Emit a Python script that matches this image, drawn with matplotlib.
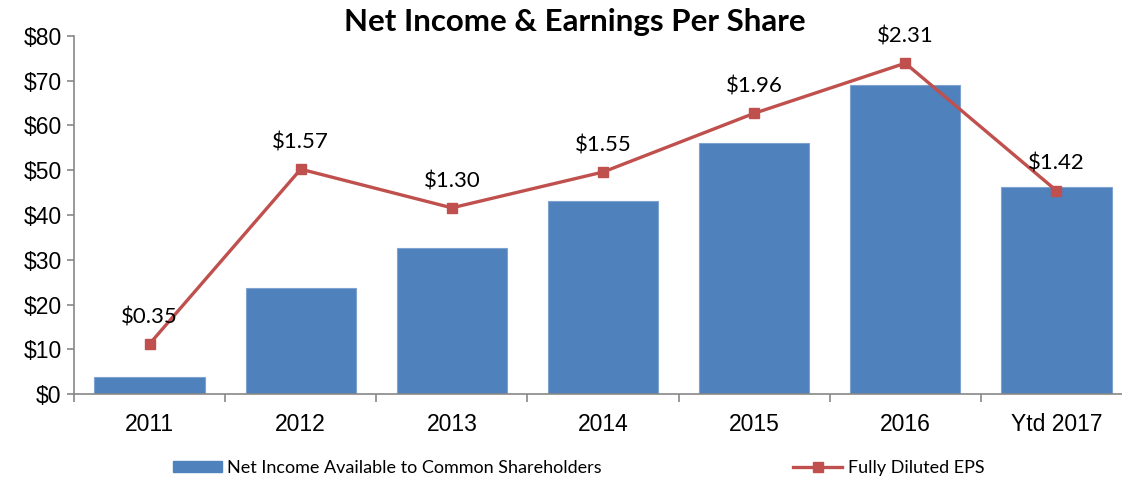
import matplotlib
matplotlib.use("Agg")
import matplotlib.pyplot as plt
import numpy as np
from matplotlib.lines import Line2D
from matplotlib.patches import Patch

categories = ["2011", "2012", "2013", "2014", "2015", "2016", "Ytd 2017"]
net_income = [3.8, 23.7, 32.7, 43.2, 56.1, 69.0, 46.2]
eps = [0.35, 1.57, 1.30, 1.55, 1.96, 2.31, 1.42]
eps_labels = ["$0.35", "$1.57", "$1.30", "$1.55", "$1.96", "$2.31", "$1.42"]
y_ticks = [0, 10, 20, 30, 40, 50, 60, 70, 80]

bar_color = "#4F81BD"
line_color = "#C0504D"

fig = plt.figure(figsize=(11.22, 4.82), dpi=100)
ax = fig.add_axes([74/1122, 88/482, 1058/1122, 358/482])
x = np.arange(len(categories))
ax.bar(x, net_income, width=0.73, color=bar_color, edgecolor="#7FA3D1", linewidth=0.8, zorder=2)
ax.set_xlim(-0.5, len(categories) - 0.5)
ax.set_ylim(0, 80)
ax.set_yticks(y_ticks)
ax.set_yticklabels([f"${v}" for v in y_ticks], fontsize=16.5, family="Liberation Sans")
ax.set_xticks(x)
ax.set_xticklabels(categories, fontsize=16.5, family="Liberation Sans")
ax.tick_params(axis="x", which="major", length=0, pad=14)
ax.set_xticks(np.arange(-0.5, len(categories), 1.0), minor=True)
ax.tick_params(axis="x", which="minor", length=6, color="#878787", width=1.2)
ax.tick_params(axis="y", length=5, color="#878787", width=1.2, pad=4)
for s in ["top", "right"]:
    ax.spines[s].set_visible(False)
for s in ["left", "bottom"]:
    ax.spines[s].set_color("#878787")
    ax.spines[s].set_linewidth(1.2)

ax2 = ax.twinx()
ax2.set_ylim(0, 2.5)
ax2.axis("off")
ax2.plot(x, eps, color=line_color, linewidth=2.4, marker="s", markersize=7, zorder=3)
for xi, v, lab in zip(x, eps, eps_labels):
    ax2.annotate(lab, (xi, v), xytext=(0, 12), textcoords="offset points",
                 ha="center", va="bottom", fontsize=16, family="Lato")

fig.text(575/1122, 1 - 22/482, "Net Income & Earnings Per Share", ha="center", va="center",
         fontsize=22.5, fontweight="bold", family="Lato")

handles = [Patch(facecolor=bar_color, edgecolor=bar_color),
           Line2D([0], [0], color=line_color, linewidth=2.4, marker="s", markersize=7)]
labels = ["Net Income Available to Common Shareholders", "Fully Diluted EPS"]
fig.legend(handles, labels, ncol=2, loc="center left", bbox_to_anchor=(157/1122, 1 - 468/482),
           frameon=False, prop={"family": "Lato", "size": 13}, handlelength=2.7,
           handleheight=0.55, handletextpad=0.3, columnspacing=10.6)

fig.savefig("out.png", dpi=100)
